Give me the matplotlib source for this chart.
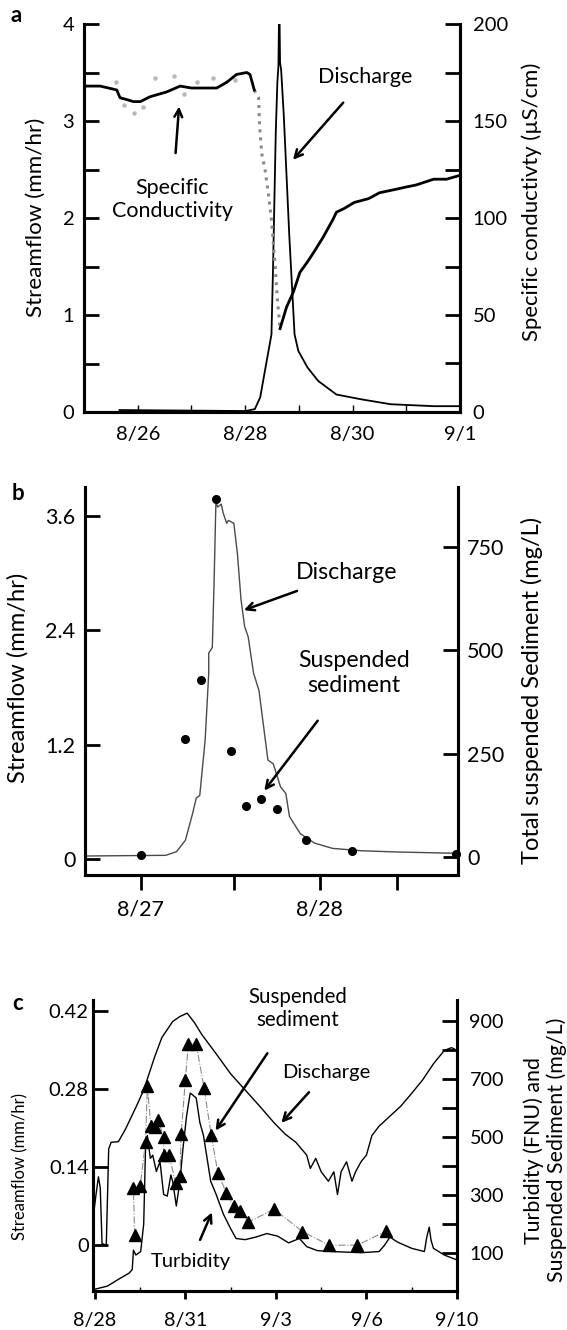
import numpy as np
import matplotlib.pyplot as plt

plt.rcParams['font.family'] = ['Lato', 'DejaVu Sans']

# ---------------- panel a data (days counted in August, 9/1 = 32) ----------------
a_q_day = [25.66, 28.01, 28.18, 28.28, 28.38, 28.49, 28.52, 28.57, 28.60, 28.62, 28.635, 28.65,
           28.67, 28.72, 28.82, 28.92, 28.99, 29.16, 29.36, 29.70, 30.17, 30.71, 31.51, 32.0]
a_q = [0.02, 0.01, 0.03, 0.15, 0.46, 0.80, 1.5, 2.88, 3.4, 3.57, 4.3, 3.6,
       3.53, 3.05, 1.84, 0.80, 0.63, 0.46, 0.32, 0.18, 0.13, 0.08, 0.06, 0.06]

a_sc1_day = [25.0, 25.30, 25.61, 25.67, 25.80, 25.92, 26.05, 26.23, 26.54, 26.79, 27.00, 27.16,
             27.47, 27.66, 27.84, 28.03, 28.09, 28.17]
a_sc1 = [168, 168, 166, 162, 161, 160, 160, 162.5, 165, 168, 167, 167,
         167, 170, 174, 175, 174, 166]
a_drop_day = [28.17, 28.25, 28.27, 28.31, 28.37, 28.43, 28.49, 28.56, 28.60, 28.65]
a_drop = [166, 162, 147, 133, 125, 113, 99, 75, 58, 43]
a_sc2_day = [28.65, 28.77, 28.90, 29.02, 29.15, 29.27, 29.45, 29.63, 29.70, 29.85, 30.03, 30.30,
             30.50, 30.84, 31.00, 31.18, 31.51, 31.75, 32.0]
a_sc2 = [43, 54, 62, 72, 77, 82, 90, 99, 103, 105, 108, 110,
         113, 115, 116, 117, 120, 120, 122]
a_raw_day = [25.59, 25.75, 25.93, 26.10, 26.33, 26.67, 26.87, 27.10, 27.41, 27.81]
a_raw = [170, 158, 154, 157, 172, 173, 164, 170, 172, 171]

# ---------------- panel b data ----------------
b_q_day = [26.69, 27.14, 27.20, 27.25, 27.29, 27.31, 27.33, 27.36, 27.38, 27.38, 27.40, 27.41,
           27.42, 27.43, 27.45, 27.46, 27.48, 27.49, 27.52, 27.54, 27.56, 27.58, 27.60, 27.63,
           27.66, 27.71, 27.74, 27.78, 27.81, 27.83, 27.89, 27.97, 28.07, 28.23, 28.43, 28.77]
b_q = [0.035, 0.042, 0.08, 0.20, 0.48, 0.64, 0.67, 1.25, 1.95, 2.16, 2.22, 2.92,
       3.74, 3.69, 3.72, 3.63, 3.52, 3.55, 3.52, 3.20, 2.72, 2.44, 2.33, 1.95,
       1.77, 1.04, 1.00, 0.76, 0.69, 0.45, 0.27, 0.17, 0.115, 0.09, 0.077, 0.063]
b_ss_day = [27.0, 27.246, 27.335, 27.42, 27.505, 27.586, 27.67, 27.758, 27.925, 28.178, 28.76]
b_ss = [4, 284, 429, 865, 256, 123, 140, 115, 40, 14, 8]

# ---------------- panel c data (9/1 = 32, 9/10 axis end) ----------------
c_q_day = [27.96, 28.04, 28.12, 28.18, 28.24, 28.38, 28.46, 28.54, 28.78, 29.02, 29.38, 29.62,
           29.98, 30.22, 30.58, 30.82, 31.06, 31.30, 31.54, 32.02, 32.50, 32.98, 33.46, 33.94,
           34.30, 34.66, 35.02, 35.14, 35.32, 35.50, 35.74, 35.92, 36.04, 36.16, 36.34, 36.52,
           36.64, 36.82, 37.00, 37.18, 37.42, 37.78, 38.14, 38.50, 38.86, 39.22, 39.58, 39.82, 40.0]
c_q = [0.056, 0.091, 0.123, 0.103, 0.003, 0.0, 0.173, 0.185, 0.186, 0.209, 0.25, 0.279,
       0.338, 0.373, 0.402, 0.411, 0.417, 0.40, 0.379, 0.344, 0.308, 0.279, 0.25, 0.22,
       0.20, 0.185, 0.162, 0.138, 0.156, 0.132, 0.115, 0.132, 0.091, 0.132, 0.15, 0.115,
       0.132, 0.15, 0.162, 0.197, 0.214, 0.232, 0.25, 0.273, 0.297, 0.326, 0.35, 0.355, 0.35]
c_turb_day = [27.96, 28.42, 28.78, 29.14, 29.24, 29.28, 29.36, 29.52, 29.62, 29.68, 29.74, 29.84,
              29.92, 30.04, 30.16, 30.28, 30.40, 30.52, 30.58, 30.70, 30.82, 30.92, 31.04, 31.16,
              31.24, 31.36, 31.48, 31.60, 31.72, 31.84, 32.02, 32.26, 32.50, 32.68, 32.98, 33.34,
              33.70, 34.06, 34.42, 34.78, 35.02, 35.38, 35.86, 36.82, 37.42, 37.60, 37.78, 38.02,
              38.50, 38.92, 39.00, 39.08, 39.14, 39.22, 39.58, 40.0]
c_turb = [-25, -13, 10, 32, 44, 111, 94, 106, 201, 461, 506, 427,
          438, 382, 416, 303, 297, 370, 348, 263, 348, 461, 573, 652,
          646, 635, 551, 506, 427, 348, 303, 235, 185, 151, 147, 156,
          168, 159, 136, 151, 123, 109, 106, 102, 106, 128, 156, 139,
          117, 106, 156, 190, 145, 117, 94, 77]
c_ss_day = [29.32, 29.28, 29.50, 29.68, 29.74, 29.86, 29.98, 30.10, 30.28, 30.28, 30.46, 30.68,
            30.82, 30.86, 31.00, 31.10, 31.36, 31.62, 31.86, 32.08, 32.36, 32.60, 32.80, 33.08,
            33.94, 34.88, 35.76, 36.70, 37.66]
c_ss = [162, 325, 331, 483, 675, 539, 534, 560, 500, 438, 438, 342,
        365, 511, 697, 821, 821, 669, 506, 376, 308, 263, 246, 207,
        252, 175, 128, 128, 177]

a_ticks = [26, 28, 30, 32]
a_labels = ['8/26', '8/28', '8/30', '9/1']
b_ticks = [27, 28]
b_labels = ['8/27', '8/28']
c_ticks = [28, 31, 34, 37, 40]
c_labels = ['8/28', '8/31', '9/3', '9/6', '9/10']

W, H = 567, 1330
fig = plt.figure(figsize=(W / 100, H / 100), dpi=100)


def box(l, t, r, b):
    return [l / W, 1 - b / H, (r - l) / W, (b - t) / H]


def style(ax, ax2):
    for a in (ax, ax2):
        a.spines['top'].set_visible(False)
        for s in ('left', 'right', 'bottom'):
            a.spines[s].set_linewidth(2.2)
    ax.patch.set_visible(False)


arrow = dict(arrowstyle='->', lw=1.8, color='black', shrinkB=0, mutation_scale=14)

# ---------------- panel a ----------------
ax1 = fig.add_axes(box(84, 24, 460, 412))
ax1b = ax1.twinx()
style(ax1, ax1b)
ax1.plot(a_q_day, a_q, color='black', lw=1.3, zorder=3)
ax1b.scatter(a_raw_day, a_raw, s=5, color='#b8b8b8', zorder=2)
ax1b.plot(a_drop_day, a_drop, ls=':', color='#8a8a8a', lw=2.2)
ax1b.plot(a_sc1_day, a_sc1, color='black', lw=2.0)
ax1b.plot(a_sc2_day, a_sc2, color='black', lw=2.0)
ax1.set_xlim(25, 32)
ax1.set_ylim(0, 4)
ax1b.set_ylim(0, 200)
ax1.set_yticks([0, 1, 2, 3, 4])
ax1.set_yticks(np.arange(0.5, 4, 1), minor=True)
ax1b.set_yticks([0, 50, 100, 150, 200])
ax1b.set_yticks(np.arange(25, 200, 50), minor=True)
ax1.set_xticks(a_ticks, a_labels)
ax1.set_xticks(range(25, 33), minor=True)
ax1.tick_params(axis='y', which='both', direction='in', length=11, width=2, labelsize=14.5, pad=7)
ax1b.tick_params(axis='y', which='both', direction='in', length=11, width=2, labelsize=14.5, pad=9)
ax1.tick_params(axis='x', which='both', direction='in', length=5, width=1, labelsize=14.6, pad=10)
ax1.annotate('Specific\nConductivity', xy=(26.77, 3.15), xytext=(26.64, 2.19),
             ha='center', va='center', fontsize=15.5, arrowprops=dict(arrow, shrinkA=16))
ax1.annotate('Discharge', xy=(28.89, 2.60), xytext=(30.24, 3.45),
             ha='center', va='center', fontsize=15.5, arrowprops=dict(arrow, shrinkA=12))
fig.text(36 / W, 1 - 217 / H, 'Streamflow (mm/hr)', rotation=90, ha='center', va='center', fontsize=16.1)
fig.text(532 / W, 1 - 202 / H, 'Specific conductivty (µS/cm)', rotation=90, ha='center', va='center',
         fontsize=15.9)
fig.text(16 / W, 1 - 15 / H, 'a', fontsize=16, fontweight='bold', ha='center', va='center')

# ---------------- panel b ----------------
ax2 = fig.add_axes(box(85, 487, 458, 875))
ax2b = ax2.twinx()
style(ax2, ax2b)
ax2.plot(b_q_day, b_q, color='#4a4a4a', lw=1.0)
ax2b.plot(b_ss_day, b_ss, 'o', color='black', ms=5.5, clip_on=False)
ax2.set_xlim(26.69, 28.77)
ax2.set_ylim(-0.164, 3.90)
ax2b.set_ylim(-44, 895)
ax2.set_yticks([0, 1.2, 2.4, 3.6], ['0', '1.2', '2.4', '3.6'])
ax2b.set_yticks([0, 250, 500, 750])
ax2.set_xticks(b_ticks, b_labels)
ax2.set_xticks([27.52, 28.43], minor=True)
ax2.tick_params(axis='y', direction='in', length=11, width=2, labelsize=15.5, pad=7)
ax2b.tick_params(axis='y', direction='in', length=11, width=2, labelsize=15.5, pad=6.5)
ax2.tick_params(axis='x', which='both', direction='out', length=11, width=2, labelsize=15.5, pad=7)
ax2.annotate('Discharge', xy=(27.576, 2.61), xytext=(28.15, 3.0),
             ha='center', va='center', fontsize=16.7, arrowprops=dict(arrow, shrinkA=10))
ax2.annotate('Suspended\nsediment', xy=(27.69, 0.72), xytext=(28.19, 1.95),
             ha='center', va='center', fontsize=16.7, arrowprops=dict(arrow, shrinkA=20))
fig.text(18 / W, 1 - 678 / H, 'Streamflow (mm/hr)', rotation=90, ha='center', va='center', fontsize=17.1)
fig.text(532 / W, 1 - 690 / H, 'Total suspended Sediment (mg/L)', rotation=90, ha='center', va='center',
         fontsize=17)
fig.text(18 / W, 1 - 493 / H, 'b', fontsize=16, fontweight='bold', ha='center', va='center')

# ---------------- panel c ----------------
ax3 = fig.add_axes(box(93, 1000, 457, 1291))
ax3b = ax3.twinx()
style(ax3, ax3b)
ax3.plot(c_q_day, c_q, color='black', lw=1.0)
ax3b.plot(c_turb_day, c_turb, color='black', lw=1.0)
ax3b.plot(c_ss_day, c_ss, ls='-.', color='#8a8a8a', lw=0.8)
ax3b.plot(c_ss_day, c_ss, '^', color='black', ms=9, ls='none')
ax3.set_xlim(27.94, 40.0)
ax3.set_ylim(-0.0822, 0.4406)
ax3b.set_ylim(-30, 973)
ax3.set_yticks([0, 0.14, 0.28, 0.42], ['0', '0.14', '0.28', '0.42'])
ax3b.set_yticks([100, 300, 500, 700, 900])
ax3b.set_yticks([200, 400, 600, 800], minor=True)
ax3.set_xticks(c_ticks, c_labels)
ax3.set_xticks([29.5, 32.5, 35.5, 38.5], minor=True)
ax3.tick_params(axis='y', direction='in', length=11, width=2, labelsize=14.5, pad=3)
ax3b.tick_params(axis='y', which='both', direction='in', length=11, width=2, labelsize=14.2, pad=9)
ax3.tick_params(axis='x', which='major', direction='out', length=6, width=2, labelsize=14.2, pad=9)
ax3.tick_params(axis='x', which='minor', direction='in', length=3, width=1)
ax3.annotate('Suspended\nsediment', xy=(32.0, 0.206), xytext=(34.72, 0.426),
             ha='center', va='center', fontsize=14.8, annotation_clip=False,
             arrowprops=dict(arrow, shrinkA=18))
ax3.annotate('Discharge', xy=(34.18, 0.22), xytext=(35.68, 0.31),
             ha='center', va='center', fontsize=14.5, arrowprops=dict(arrow, shrinkA=8))
ax3.annotate('Turbidity', xy=(31.88, 0.059), xytext=(31.18, -0.029),
             ha='center', va='center', fontsize=14.5, arrowprops=dict(arrow, shrinkA=8))
fig.text(20 / W, 1 - 1167 / H, 'Streamflow (mm/hr)', rotation=90, ha='center', va='center', fontsize=12)
fig.text(545 / W, 1 - 1150 / H, 'Turbidity (FNU) and\nSuspended Sediment (mg/L)', rotation=90,
         ha='center', va='center', fontsize=15.4, linespacing=1.15)
fig.text(18 / W, 1 - 1003 / H, 'c', fontsize=16, fontweight='bold', ha='center', va='center')

fig.savefig('out.png', dpi=100)
